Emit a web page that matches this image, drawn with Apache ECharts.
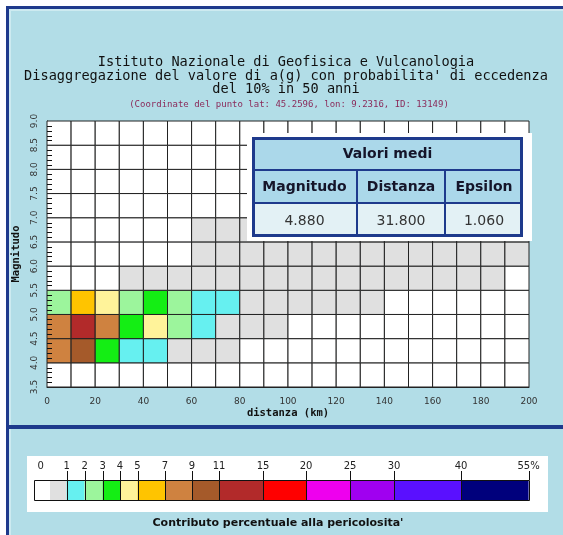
<!DOCTYPE html>
<html>
<head>
<meta charset="utf-8">
<script src="https://cdn.jsdelivr.net/npm/echarts@6/dist/echarts.min.js"></script>
<style>
  html, body { margin: 0; padding: 0; background: #ffffff; }
  #chart { width: 563px; height: 535px; }
</style>
</head>
<body>
<div id="chart"></div>
<script>
// Lower edges of the distance bins (km) and magnitude bins
const distBins = [0, 10, 20, 30, 40, 50, 60, 70, 80, 90, 100, 110, 120, 130, 140, 150, 160, 170, 180, 190];
const magBins = [3.5, 4.0, 4.5, 5.0, 5.5, 6.0, 6.5, 7.0, 7.5, 8.0, 8.5];
const distStep = 10;
const magStep = 0.5;

// Percentage contribution to the hazard, one row per magnitude bin, one value per distance bin
const contribM35 = [0, 0, 0, 0, 0, 0, 0, 0, 0, 0, 0, 0, 0, 0, 0, 0, 0, 0, 0, 0];
const contribM40 = [7.8, 9.6, 3.3, 1.7, 1.2, 0.8, 0.5, 0.3, 0, 0, 0, 0, 0, 0, 0, 0, 0, 0, 0, 0];
const contribM45 = [8.0, 12.3, 7.6, 3.5, 4.3, 2.2, 1.3, 0.9, 0.6, 0.4, 0, 0, 0, 0, 0, 0, 0, 0, 0, 0];
const contribM50 = [2.5, 5.8, 4.4, 2.3, 3.4, 2.1, 1.4, 1.1, 0.8, 0.6, 0.5, 0.4, 0.3, 0.2, 0, 0, 0, 0, 0, 0];
const contribM55 = [0, 0, 0, 0.6, 0.5, 0.5, 0.4, 0.4, 0.3, 0.3, 0.3, 0.2, 0.2, 0.2, 0.2, 0.1, 0.1, 0.1, 0.1, 0];
const contribM60 = [0, 0, 0, 0, 0, 0, 0.3, 0.3, 0.3, 0.3, 0.2, 0.2, 0.2, 0.2, 0.2, 0.2, 0.1, 0.1, 0.1, 0.1];
const contribM65 = [0, 0, 0, 0, 0, 0, 0.2, 0.2, 0.2, 0.2, 0.2, 0.2, 0.1, 0.1, 0.1, 0.1, 0.1, 0.1, 0.1, 0.1];
const contribM70 = [0, 0, 0, 0, 0, 0, 0, 0, 0, 0, 0, 0, 0, 0, 0, 0, 0, 0, 0, 0];
const contribM75 = [0, 0, 0, 0, 0, 0, 0, 0, 0, 0, 0, 0, 0, 0, 0, 0, 0, 0, 0, 0];
const contribM80 = [0, 0, 0, 0, 0, 0, 0, 0, 0, 0, 0, 0, 0, 0, 0, 0, 0, 0, 0, 0];
const contribM85 = [0, 0, 0, 0, 0, 0, 0, 0, 0, 0, 0, 0, 0, 0, 0, 0, 0, 0, 0, 0];
const contribRows = [contribM35, contribM40, contribM45, contribM50, contribM55, contribM60,
                     contribM65, contribM70, contribM75, contribM80, contribM85];

// Colour classes (percent) and their colours: first colour is for zero
const classBreaks = [0, 1, 2, 3, 4, 5, 7, 9, 11, 15, 20, 25, 30, 40, 55];
const classColors = ['#ffffff', '#e0e0e0', '#66f0f0', '#9cf59c', '#14ee14', '#fff39a', '#ffc400',
                     '#cf8240', '#a55a2a', '#b22a2a', '#ff0000', '#ee00ee', '#a000f0', '#5a10ff', '#00007c'];
const classLabels = ['0', '1', '2', '3', '4', '5', '7', '9', '11', '15', '20', '25', '30', '40', '55%'];

// Mean values box
const meanTitle = 'Valori medi';
const meanHeaders = ['Magnitudo', 'Distanza', 'Epsilon'];
const meanValues = ['4.880', '31.800', '1.060'];

// Axis ticks
const distTicks = [0, 20, 40, 60, 80, 100, 120, 140, 160, 180, 200];
const magTicks = [3.5, 4.0, 4.5, 5.0, 5.5, 6.0, 6.5, 7.0, 7.5, 8.0, 8.5, 9.0];
const magMinorStep = 0.1;

const titleLines = [
  'Istituto Nazionale di Geofisica e Vulcanologia',
  "Disaggregazione del valore di a(g) con probabilita' di eccedenza",
  'del 10% in 50 anni'
];
const subTitle = '(Coordinate del punto lat: 45.2596, lon: 9.2316, ID: 13149)';
const legendCaption = "Contributo percentuale alla pericolosita'";

// ---- build cells ----
const cells = [];
magBins.forEach((m, r) => {
  distBins.forEach((d, c) => {
    cells.push([d, m, contribRows[r][c]]);
  });
});

// minor tick positions along the magnitude axis (between the labelled ticks)
const magMinorTicks = [];
for (let i = 0; i < magTicks.length - 1; i++) {
  for (let k = 1; k < 5; k++) {
    magMinorTicks.push(+(magTicks[i] + k * magMinorStep).toFixed(1));
  }
}

const pieces = [{ lte: 0, color: classColors[0] }];
for (let i = 1; i < classBreaks.length; i++) {
  pieces.push({ gt: classBreaks[i - 1], lte: classBreaks[i], color: classColors[i] });
}

const MONO_FAMILY = 'DejaVu Sans Mono';
const MONO = '"DejaVu Sans Mono", monospace';
const SANS = '"DejaVu Sans", Verdana, sans-serif';
const NAVY = '#1e3a8c';
const PANEL = '#b2dde7';

const graphics = [];

// page frame
graphics.push({ type: 'rect', z: 0, shape: { x: 6, y: 6, width: 557, height: 529 }, style: { fill: PANEL } });
graphics.push({ type: 'rect', z: 0, shape: { x: 9, y: 9, width: 554, height: 2 }, style: { fill: '#cdeaf0' } });
graphics.push({ type: 'rect', z: 0, shape: { x: 9, y: 9, width: 2, height: 526 }, style: { fill: '#cdeaf0' } });
graphics.push({ type: 'rect', z: 0, shape: { x: 6, y: 6, width: 557, height: 3 }, style: { fill: NAVY } });
graphics.push({ type: 'rect', z: 0, shape: { x: 6, y: 6, width: 3, height: 529 }, style: { fill: NAVY } });
graphics.push({ type: 'rect', z: 0, shape: { x: 6, y: 425, width: 557, height: 4 }, style: { fill: NAVY } });

// titles
const titleY = [62, 76, 89];
titleLines.forEach((t, i) => {
  graphics.push({ type: 'text', z: 5, x: 286, y: titleY[i],
    style: { text: t, font: '13.6px ' + MONO, fill: '#111111', textAlign: 'center', textVerticalAlign: 'middle' } });
});
graphics.push({ type: 'text', z: 5, x: 289, y: 105,
  style: { text: subTitle, font: '9px ' + MONO, fill: '#8a2a5a', textAlign: 'center', textVerticalAlign: 'middle' } });

// mean values box
const tb = { x: 252, y: 137, w: 271, h: 100, r1: 170, r2: 203, c1: 357, c2: 445 };
const colCenters = [(tb.x + tb.c1) / 2, (tb.c1 + tb.c2) / 2, (tb.c2 + tb.x + tb.w) / 2];
graphics.push({ type: 'rect', z: 20, shape: { x: 247, y: 133, width: 285, height: 108 }, style: { fill: '#ffffff' } });
graphics.push({ type: 'rect', z: 20, shape: { x: tb.x, y: tb.y, width: tb.w, height: tb.r2 - tb.y }, style: { fill: '#abd8ea' } });
graphics.push({ type: 'rect', z: 20, shape: { x: tb.x, y: tb.r2, width: tb.w, height: tb.y + tb.h - tb.r2 }, style: { fill: '#e3f1f5' } });
graphics.push({ type: 'rect', z: 21, shape: { x: tb.x, y: tb.r1 - 1, width: tb.w, height: 2 }, style: { fill: NAVY } });
graphics.push({ type: 'rect', z: 21, shape: { x: tb.x, y: tb.r2 - 1, width: tb.w, height: 2 }, style: { fill: NAVY } });
graphics.push({ type: 'rect', z: 21, shape: { x: tb.c1 - 1, y: tb.r1, width: 2, height: tb.y + tb.h - tb.r1 }, style: { fill: NAVY } });
graphics.push({ type: 'rect', z: 21, shape: { x: tb.c2 - 1, y: tb.r1, width: 2, height: tb.y + tb.h - tb.r1 }, style: { fill: NAVY } });
graphics.push({ type: 'rect', z: 22, shape: { x: tb.x + 1.5, y: tb.y + 1.5, width: tb.w - 3, height: tb.h - 3 },
  style: { fill: null, stroke: NAVY, lineWidth: 3 } });
graphics.push({ type: 'text', z: 23, x: tb.x + tb.w / 2, y: (tb.y + tb.r1) / 2 + 1,
  style: { text: meanTitle, font: 'bold 14px ' + SANS, fill: '#15152a', textAlign: 'center', textVerticalAlign: 'middle' } });
meanHeaders.forEach((h, i) => {
  graphics.push({ type: 'text', z: 23, x: colCenters[i], y: (tb.r1 + tb.r2) / 2 + 1,
    style: { text: h, font: 'bold 14px ' + SANS, fill: '#15152a', textAlign: 'center', textVerticalAlign: 'middle' } });
});
meanValues.forEach((v, i) => {
  graphics.push({ type: 'text', z: 23, x: colCenters[i], y: (tb.r2 + tb.y + tb.h) / 2 + 1,
    style: { text: v, font: '14px ' + SANS, fill: '#333333', textAlign: 'center', textVerticalAlign: 'middle' } });
});

// colour legend
const legendEdges = [33.5, 50, 66.6, 84.6, 102.6, 120, 137.5, 165, 192, 219, 263, 306, 350, 394, 461, 528.6];
const barTop = 480, barH = 21;
graphics.push({ type: 'rect', z: 1, shape: { x: 27, y: 456, width: 521, height: 56 }, style: { fill: '#ffffff' } });
classColors.forEach((col, i) => {
  graphics.push({ type: 'rect', z: 2, shape: { x: legendEdges[i], y: barTop, width: legendEdges[i + 1] - legendEdges[i], height: barH },
    style: { fill: col } });
});
for (let i = 2; i < legendEdges.length - 1; i++) {
  const x = Math.round(legendEdges[i]) + 0.5;
  graphics.push({ type: 'line', z: 3, shape: { x1: x, y1: barTop, x2: x, y2: barTop + barH }, style: { stroke: '#111', lineWidth: 1 } });
}
for (let i = 2; i < legendEdges.length; i++) {
  const x = Math.round(legendEdges[i]) + 0.5;
  graphics.push({ type: 'line', z: 3, shape: { x1: x, y1: barTop - 9, x2: x, y2: barTop }, style: { stroke: '#111', lineWidth: 1 } });
}
graphics.push({ type: 'rect', z: 3, shape: { x: Math.round(legendEdges[0]) + 0.5, y: barTop + 0.5,
  width: Math.round(legendEdges[legendEdges.length - 1] - legendEdges[0]), height: barH - 1 },
  style: { fill: null, stroke: '#111', lineWidth: 1 } });
classLabels.forEach((lab, i) => {
  const x = i === 0 ? (legendEdges[0] + legendEdges[1]) / 2 - 1 : legendEdges[i + 1];
  graphics.push({ type: 'text', z: 3, x: x, y: 466,
    style: { text: lab, font: '10px ' + SANS, fill: '#222', textAlign: 'center', textVerticalAlign: 'middle' } });
});
graphics.push({ type: 'text', z: 3, x: 278, y: 523,
  style: { text: legendCaption, font: 'bold 11px ' + SANS, fill: '#111', textAlign: 'center', textVerticalAlign: 'middle' } });

const chart = echarts.init(document.getElementById('chart'), null, { renderer: 'canvas' });
chart.setOption({
  animation: false,
  backgroundColor: 'transparent',
  grid: { left: 47, right: 34, top: 121, bottom: 148, show: true, backgroundColor: '#ffffff', borderWidth: 0 },
  xAxis: {
    type: 'value', min: distTicks[0], max: distTicks[distTicks.length - 1], interval: 20,
    name: 'distanza (km)', nameLocation: 'middle', nameGap: 21,
    nameTextStyle: { fontFamily: MONO_FAMILY, fontWeight: 'bold', fontSize: 10.5, color: '#111' },
    axisLine: { show: true, lineStyle: { color: '#222', width: 1 } },
    axisTick: { show: false },
    splitLine: { show: false },
    axisLabel: { margin: 10, fontFamily: 'DejaVu Sans', fontSize: 9, color: '#333' }
  },
  yAxis: {
    type: 'value', min: magTicks[0], max: magTicks[magTicks.length - 1], interval: 0.5,
    name: 'Magnitudo', nameLocation: 'middle', nameGap: 23, nameRotate: 90,
    nameTextStyle: { fontFamily: MONO_FAMILY, fontWeight: 'bold', fontSize: 10.5, color: '#111' },
    axisLine: { show: true, lineStyle: { color: '#222', width: 1 } },
    axisTick: { show: false },
    splitLine: { show: false },
    axisLabel: { rotate: 90, margin: 8, fontFamily: 'DejaVu Sans', fontSize: 9, color: '#333',
      formatter: v => v.toFixed(1) }
  },
  visualMap: { type: 'piecewise', show: false, dimension: 2, seriesIndex: 0, pieces: pieces },
  graphic: { elements: graphics },
  series: [{
    type: 'custom',
    z: 2,
    data: cells,
    encode: { x: 0, y: 1 },
    renderItem: function (params, api) {
      const d0 = api.value(0), m0 = api.value(1);
      const p0 = api.coord([d0, m0]);
      const p1 = api.coord([d0 + distStep, m0 + magStep]);
      return {
        type: 'rect',
        shape: { x: p0[0], y: p1[1], width: p1[0] - p0[0], height: p0[1] - p1[1] },
        style: { fill: api.visual('color'), stroke: '#222222', lineWidth: 1 }
      };
    }
  }]
});

// inward minor tick marks on the magnitude axis, placed through the grid's scales
const tickEls = magMinorTicks.map(m => {
  const p = chart.convertToPixel({ gridIndex: 0 }, [distTicks[0], m]);
  const y = Math.round(p[1]) + 0.5;
  return { type: 'line', z: 30, silent: true,
    shape: { x1: p[0], y1: y, x2: p[0] + 5, y2: y },
    style: { stroke: '#111111', lineWidth: 1 } };
});
chart.setOption({ graphic: { elements: graphics.concat(tickEls) } });
</script>
</body>
</html>
